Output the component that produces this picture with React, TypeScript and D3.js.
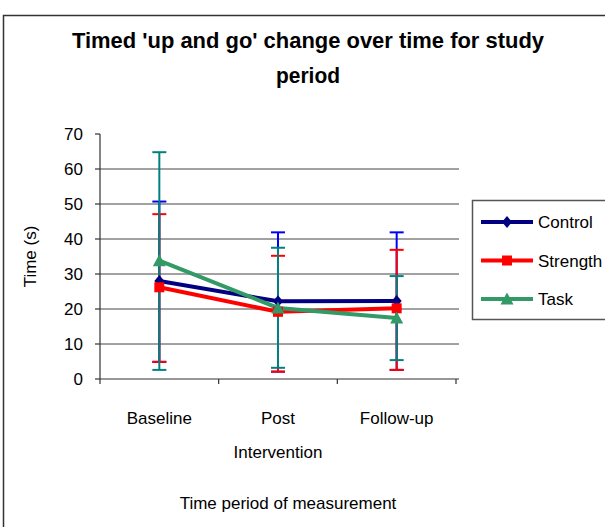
import React from "react";
import * as d3 from "d3";

const categories = ["Baseline", "Post", "Follow-up"];
const categorySub = ["", "Intervention", ""];
const yTicks = [0, 10, 20, 30, 40, 50, 60, 70];

const controlMean = [28, 22.2, 22.3];
const controlUpper = [50.7, 41.9, 41.9];
const controlLower = [4.9, 2.1, 2.6];

const strengthMean = [26.2, 19.2, 20.2];
const strengthUpper = [47.1, 35.2, 36.9];
const strengthLower = [4.9, 2.1, 2.6];

const taskMean = [33.8, 20.3, 17.4];
const taskUpper = [64.8, 37.5, 29.4];
const taskLower = [2.6, 3.2, 5.4];

const seriesNames = ["Control", "Strength", "Task"];

const W = 605;
const H = 527;
const left = 100;
const right = 456;
const top = 134;
const bottom = 379;

export default function App() {
  const x = d3.scaleBand<string>().domain(categories).range([left, right]).padding(0);
  const y = d3.scaleLinear().domain([0, 70]).range([bottom, top]);
  const cx = (c: string) => (x(c) as number) + x.bandwidth() / 2;

  const series = [
    { name: seriesNames[0], mean: controlMean, up: controlUpper, lo: controlLower, color: "#000080", err: "#0000ff", shape: "diamond" },
    { name: seriesNames[1], mean: strengthMean, up: strengthUpper, lo: strengthLower, color: "#ff0000", err: "#ff0000", shape: "square" },
    { name: seriesNames[2], mean: taskMean, up: taskUpper, lo: taskLower, color: "#339966", err: "#008080", shape: "triangle" },
  ];

  const line = d3
    .line<number>()
    .x((_, i) => cx(categories[i]))
    .y((d) => y(d));

  const marker = (shape: string, px: number, py: number, color: string, size: number) => {
    if (shape === "diamond") {
      const s = size / 2;
      return <path d={`M${px},${py - s - 1}L${px + s},${py}L${px},${py + s + 1}L${px - s},${py}Z`} fill={color} />;
    }
    if (shape === "square") {
      const s = size / 2;
      return <rect x={px - s} y={py - s} width={size} height={size} fill={color} />;
    }
    const s = size / 2;
    return <path d={`M${px},${py - s - 1}L${px + s + 1},${py + s}L${px - s - 1},${py + s}Z`} fill={color} />;
  };

  const font = "'Liberation Sans', Arial, sans-serif";

  return (
    <svg width={W} height={H} style={{ position: "absolute", left: 0, top: 0, background: "#fff" }} fontFamily={font}>
      <rect x={3.5} y={15.5} width={W + 10} height={H + 10} fill="#fff" stroke="#333" strokeWidth={1.5} />
      <text x={308} y={48} textAnchor="middle" fontSize={22} fontWeight="bold" fill="#000" textLength={472} lengthAdjust="spacingAndGlyphs">
        Timed 'up and go' change over time for study
      </text>
      <text x={308} y={83} textAnchor="middle" fontSize={22} fontWeight="bold" fill="#000" textLength={64} lengthAdjust="spacingAndGlyphs">
        period
      </text>

      {/* gridlines */}
      {yTicks.filter((t) => t > 0 && t < 70).map((t) => (
        <line key={t} x1={left} x2={right + 3} y1={y(t)} y2={y(t)} stroke="#444" strokeWidth={1} />
      ))}
      {/* y axis */}
      <line x1={left} x2={left} y1={top} y2={bottom} stroke="#333" strokeWidth={1.2} />
      {yTicks.map((t) => (
        <g key={t}>
          <line x1={left - 5} x2={left} y1={y(t)} y2={y(t)} stroke="#333" strokeWidth={1.2} />
          <text x={83} y={y(t) + 6} textAnchor="end" fontSize={17} fill="#000">{t}</text>
        </g>
      ))}
      {/* x axis */}
      <line x1={left} x2={right + 3} y1={bottom} y2={bottom} stroke="#333" strokeWidth={1.2} />
      {[...categories.map((c) => x(c) as number), right].map((v, i) => (
        <line key={i} x1={v} x2={v} y1={bottom} y2={bottom + 5} stroke="#333" strokeWidth={1.2} />
      ))}
      {categories.map((c, i) => (
        <g key={c}>
          <text x={cx(c)} y={424} textAnchor="middle" fontSize={17} fill="#000">{c}</text>
          {categorySub[i] && (
            <text x={cx(c)} y={458} textAnchor="middle" fontSize={17} fill="#000">{categorySub[i]}</text>
          )}
        </g>
      ))}
      <text x={288} y={509} textAnchor="middle" fontSize={17} fill="#000">Time period of measurement</text>
      <text transform={`translate(36,${(top + bottom) / 2}) rotate(-90)`} textAnchor="middle" fontSize={17} fill="#000">Time (s)</text>

      {/* error bars */}
      {series.map((s) =>
        categories.map((c, i) => {
          const px = cx(c);
          return (
            <g key={s.name + c}>
              <line x1={px} x2={px} y1={y(s.up[i])} y2={y(s.lo[i])} stroke={s.err} strokeWidth={2} />
              <line x1={px - 7} x2={px + 7} y1={y(s.up[i])} y2={y(s.up[i])} stroke={s.err} strokeWidth={2} />
              <line x1={px - 7} x2={px + 7} y1={y(s.lo[i])} y2={y(s.lo[i])} stroke={s.err} strokeWidth={2} />
            </g>
          );
        })
      )}
      {/* lines */}
      {series.map((s) => (
        <path key={s.name} d={line(s.mean) as string} fill="none" stroke={s.color} strokeWidth={4} />
      ))}
      {series.map((s) =>
        s.mean.map((v, i) => (
          <g key={s.name + i}>{marker(s.shape, cx(categories[i]), y(v), s.color, s.shape === "triangle" ? 11 : 10)}</g>
        ))
      )}

      {/* legend */}
      <rect x={472.5} y={200.5} width={150} height={119} fill="#fff" stroke="#555" strokeWidth={1.5} />
      {series.map((s, i) => {
        const ly = 222 + i * 38.5;
        return (
          <g key={s.name}>
            <line x1={481} x2={533} y1={ly} y2={ly} stroke={s.color} strokeWidth={4} />
            {marker(s.shape, 507, ly, s.color, s.shape === "triangle" ? 11 : 10)}
            <text x={538} y={ly + 6} fontSize={17} fill="#000">{s.name}</text>
          </g>
        );
      })}
    </svg>
  );
}
